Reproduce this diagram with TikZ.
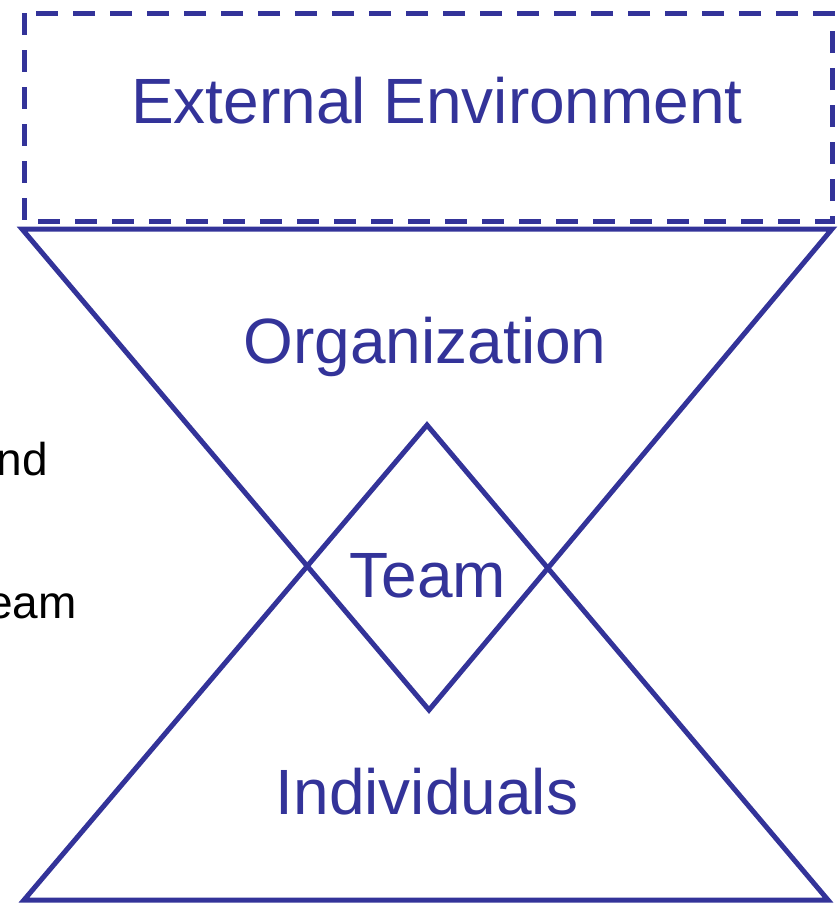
\documentclass[tikz,border=0pt]{standalone}
\usepackage{fontspec}
\setmainfont{Liberation Sans}
\definecolor{navy}{RGB}{51,51,153}
\tikzset{
  outline/.style={draw=navy, line width=2.5pt, line join=miter},
  boundary/.style={outline, dash pattern=on 11pt off 7.5pt},
  level/.style={text=navy, font=\fontsize{32}{38}\selectfont, inner sep=0pt, anchor=base},
  aside/.style={text=black, font=\fontsize{23}{28}\selectfont, inner sep=0pt, anchor=base east}
}
\begin{document}
\begin{tikzpicture}[x=0.5pt, y=-0.5pt]
	\useasboundingbox (0,0) rectangle (837,905);
	% corners of the two triangles
	\coordinate (orgL) at (22,229);
	\coordinate (orgR) at (832,229);
	\coordinate (orgTip) at (429,710);
	\coordinate (indL) at (24,900);
	\coordinate (indR) at (828,900);
	\coordinate (indTip) at (427,425);
	% environment box
	\draw[boundary] (24,13) rectangle (832,221);
	\node[level] (env) at (437,123) {External Environment};
	% organization above, individuals below; the overlap is the team
	\draw[outline] (orgL) -- (orgR) -- (orgTip) -- cycle;
	\draw[outline] (indL) -- (indR) -- (indTip) -- cycle;
	\node[level] (org) at (425,363) {Organization};
	\node[level] (team) at (428,597) {Team};
	\node[level] (ind) at (427,814) {Individuals};
	% side notes
	\node[aside] (noteA) at (48,475) {nd};
	\node[aside] (noteB) at (77,618) {eam};
\end{tikzpicture}
\end{document}
